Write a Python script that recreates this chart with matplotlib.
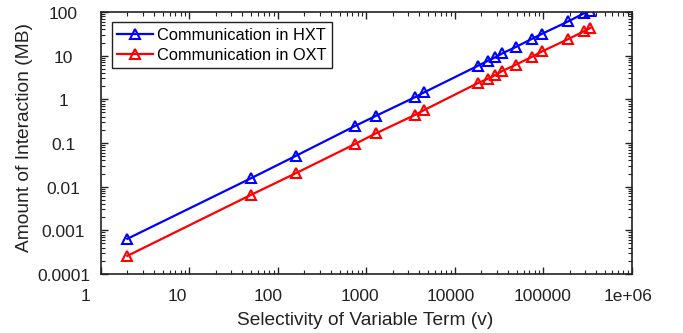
import matplotlib.pyplot as plt
from matplotlib.ticker import FixedLocator, LogLocator, NullFormatter
from matplotlib.transforms import ScaledTranslation

plt.rcParams['font.family'] = ['Liberation Sans', 'DejaVu Sans']

# selectivity of variable term
selectivity = [2, 50, 161, 750, 1294, 3560, 4530, 18100, 23900, 28800,
               34600, 49000, 75300, 97700, 192000, 288000, 340000]
# amount of interaction (MB)
hxt = [0.00064, 0.0156, 0.051, 0.246, 0.42, 1.12, 1.45, 5.8, 7.7, 9.2,
       11.3, 15.8, 24.5, 31.9, 61, 93, 105]
oxt = [0.00026, 0.0065, 0.0204, 0.095, 0.167, 0.44, 0.57, 2.33, 2.98, 3.6,
       4.47, 6.2, 9.5, 12.6, 24, 36, 43]

xticks = [1, 10, 100, 1000, 10000, 100000, 1000000]
xlabels = ['1', '10', '100', '1000', '10000', '100000', '1e+06']
yticks = [0.0001, 0.001, 0.01, 0.1, 1, 10, 100]
ylabels = ['0.0001', '0.001', '0.01', '0.1', '1', '10', '100']

txt = '#222222'

fig = plt.figure(figsize=(6.83, 3.33), dpi=100)
ax = fig.add_axes([100.7 / 683, 59 / 333, 531 / 683, 262 / 333])

ax.plot(selectivity, hxt, color='#0000ff', lw=1.6, marker='^', ms=7.5,
        mfc='none', mew=1.5, label='Communication in HXT')
ax.plot(selectivity, oxt, color='#ff0000', lw=1.6, marker='^', ms=7.5,
        mfc='none', mew=1.5, label='Communication in OXT')

ax.set_xscale('log')
ax.set_yscale('log')
ax.set_xlim(1, 1e6)
ax.set_ylim(1e-4, 100)

ax.xaxis.set_major_locator(FixedLocator(xticks))
ax.yaxis.set_major_locator(FixedLocator(yticks))
ax.xaxis.set_minor_locator(LogLocator(base=10, subs=range(2, 10), numticks=20))
ax.yaxis.set_minor_locator(LogLocator(base=10, subs=range(2, 10), numticks=20))
for axis in (ax.xaxis, ax.yaxis):
    axis.set_major_formatter(NullFormatter())
    axis.set_minor_formatter(NullFormatter())

ax.tick_params(which='both', direction='in', top=True, right=True, colors=txt)
ax.tick_params(which='major', length=5, width=1)
ax.tick_params(which='minor', length=3, width=0.8)
for s in ax.spines.values():
    s.set_linewidth(1.2)
    s.set_color(txt)


def px(dx, dy):
    return ScaledTranslation(dx / 100, dy / 100, fig.dpi_scale_trans)


# tick labels placed like the original renderer did (slightly shifted)
for v, s in zip(xticks, xlabels):
    ax.text(v, 0, s, transform=ax.get_xaxis_transform() + px(-(18 + 2 * len(s)), -27),
            ha='left', va='baseline', fontsize=12.5, color=txt)
for v, s in zip(yticks, ylabels):
    ax.text(0, v, s, transform=ax.get_yaxis_transform() + px(-37.2, -2.5),
            ha='center', va='center', fontsize=12.5, color=txt)

fig.text(365 / 683, 8 / 333, 'Selectivity of Variable Term (v)', ha='center',
         va='baseline', fontsize=13.8, color=txt)
fig.text(25 / 683, 1 - 138 / 333, 'Amount of Interaction (MB)', ha='center',
         va='center', rotation=90, fontsize=13.8, color=txt)

leg = ax.legend(loc='upper left', bbox_to_anchor=(111.7 / 683, 1 - 22 / 333),
                bbox_transform=fig.transFigure, borderaxespad=0,
                fontsize=11.8, fancybox=False, framealpha=1, edgecolor=txt,
                handlelength=2.2, borderpad=0.35, labelspacing=0.3,
                handletextpad=0.2)
leg.get_frame().set_linewidth(1)

fig.savefig('out.png', dpi=100)
